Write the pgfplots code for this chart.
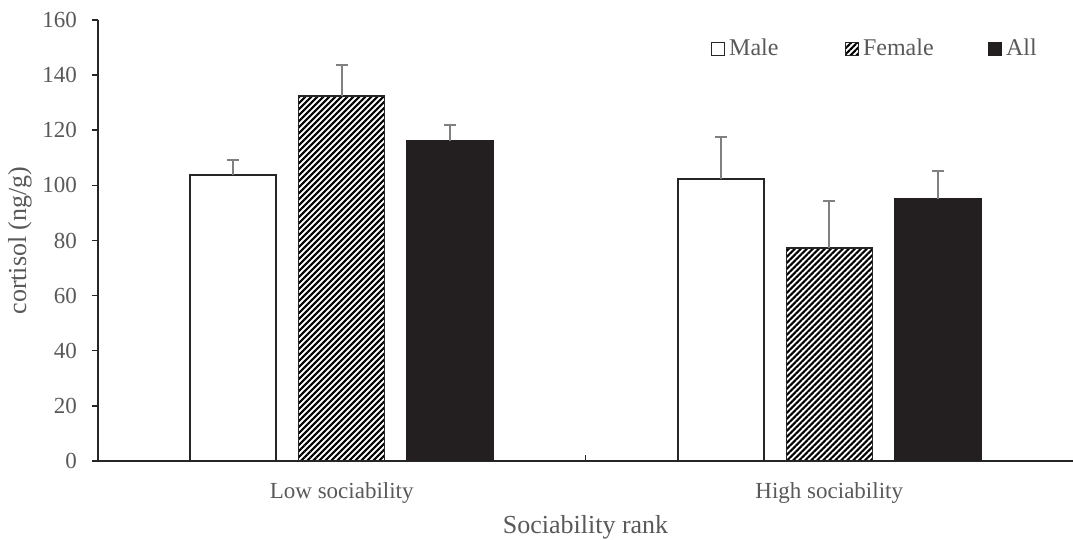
\documentclass[border=0pt]{standalone}
\usepackage{fontspec}
\setmainfont{Liberation Serif}
\usepackage{pgfplots}
\pgfplotsset{compat=1.18}
\usetikzlibrary{patterns.meta}
\definecolor{txt}{HTML}{595959}
\definecolor{axl}{HTML}{262626}
\definecolor{allc}{HTML}{231F20}
\definecolor{errc}{HTML}{808080}
\pgfplotsset{sqlegend/.style={legend image code/.code={\draw[##1,solid] (0pt,-3.25pt) rectangle (6.5pt,3.25pt);}}}
\begin{document}
\begin{tikzpicture}
\begin{axis}[
  name=ax,
  scale only axis,
  width=487.5pt, height=220.5pt,
  ybar=11.25pt, bar width=43pt,
  xmin=-0.5, xmax=1.5,
  ymin=0, ymax=160,
  ytick={0,20,...,160},
  xtick={0.5},
  xticklabels={},
  extra x ticks={0,1},
  extra x tick labels={Low sociability, High sociability},
  extra x tick style={tick style={draw=none}, tick label style={yshift=-4pt}},
  axis x line*=bottom,
  axis y line*=left,
  axis line style={axl, line width=0.75pt},
  tick align=outside,
  major tick length=3pt,
  tick style={axl, line width=0.75pt},
  xtick style={yshift=3pt},
  /pgf/number format/assume math mode=true,
  tick label style={font=\fontsize{11.5}{13.8}\selectfont, text=txt},
  yticklabel style={xshift=-4pt},
  xlabel={Sociability rank},
  ylabel={cortisol (ng/g)},
  label style={font=\fontsize{13}{15.6}\selectfont, text=txt},
  xlabel style={at={(axis description cs:0.5,-0.15)}, anchor=center},
  ylabel style={at={(axis description cs:-0.08,0.5)}, anchor=center},
  legend columns=3,
  legend cell align=left,
  legend style={draw=none, fill=none, at={(0.628,0.934)}, anchor=west,
    font=\fontsize{12}{14.4}\selectfont, text=txt,
    /tikz/column 2/.style={column sep=31pt},
    /tikz/column 4/.style={column sep=25pt},
    inner sep=0pt},
  error bars/y dir=plus,
  error bars/y explicit,
  error bars/error bar style={errc, line width=0.9pt, solid},
  error bars/error mark options={errc, line width=0.9pt, mark size=3pt, rotate=90, solid},
]
\addplot[draw=axl, line width=0.75pt, fill=white, sqlegend]
  coordinates {(0,103.8) +- (0,5.4) (1,102.3) +- (0,15.3)};
\addlegendentry{Male}
\addplot[draw=axl, line width=0.75pt, preaction={fill=white}, pattern={Lines[angle=45,distance=2.12pt,line width=1.06pt]}, pattern color=black, sqlegend]
  coordinates {(0,132.4) +- (0,11.3) (1,77.3) +- (0,17.0)};
\addlegendentry{Female}
\addplot[draw=allc, line width=0.75pt, fill=allc, sqlegend]
  coordinates {(0,116.1) +- (0,5.8) (1,95.1) +- (0,10.1)};
\addlegendentry{All}
\end{axis}
\pgfresetboundingbox
\path ([xshift=-49pt,yshift=-39.5pt]ax.south west) rectangle ([yshift=10pt]ax.north east);
\end{tikzpicture}
\end{document}
